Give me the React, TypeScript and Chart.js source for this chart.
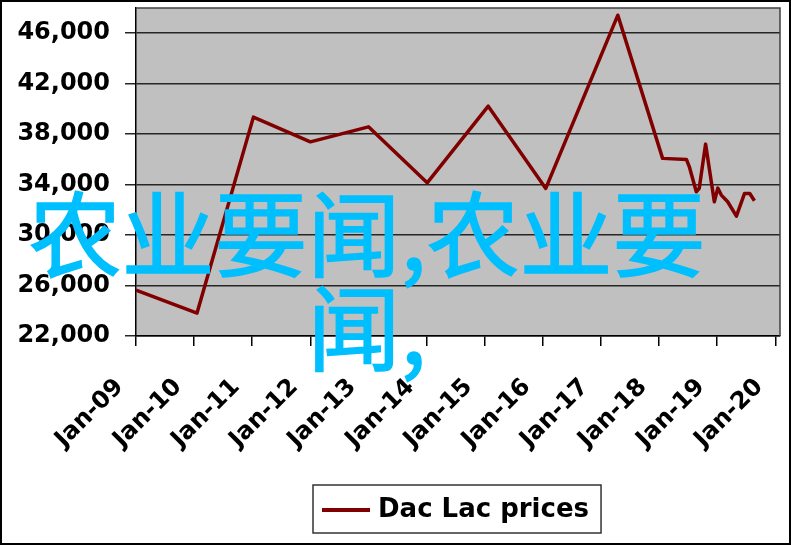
import React, { useEffect, useRef } from "react";
import { Chart, registerables } from "chart.js";

Chart.register(...registerables);

// ---- data ----
const yearLabels = [
  "Jan-09", "Jan-10", "Jan-11", "Jan-12", "Jan-13", "Jan-14",
  "Jan-15", "Jan-16", "Jan-17", "Jan-18", "Jan-19", "Jan-20",
];
// time position in years since Jan-09
const dateYears = [
  0, 1.05, 2.02, 3.0, 4.0, 5.01, 6.06, 7.05, 8.29, 9.06, 9.47, 9.52,
  9.64, 9.69, 9.8, 9.95, 10.01, 10.07, 10.18, 10.33, 10.47, 10.56, 10.64,
];
const prices = [
  25640, 23820, 39350, 37390, 38580, 34140, 40220, 33700, 47430, 36080, 36000, 35410,
  33430, 33700, 37210, 32640, 33720, 33170, 32640, 31500, 33300, 33300, 32720,
];
const yTicks = [22000, 26000, 30000, 34000, 38000, 42000, 46000];
const seriesLabel = "Dac Lac prices";
const overlayText = "农业要闻,农业要闻,";

const FONT = "DejaVu Sans";

const framePlugin = {
  id: "frame",
  beforeDraw(chart: any) {
    const { ctx, chartArea: a } = chart;
    ctx.save();
    ctx.fillStyle = "#ffffff";
    ctx.fillRect(0, 0, chart.width, chart.height);
    ctx.fillStyle = "#c0c0c0";
    ctx.fillRect(a.left, a.top, a.right - a.left, a.bottom - a.top);
    ctx.restore();
  },
  afterDraw(chart: any) {
    const { ctx, chartArea: a } = chart;
    ctx.save();
    // plot border (top / right)
    ctx.strokeStyle = "#404040";
    ctx.lineWidth = 1.5;
    ctx.beginPath();
    ctx.moveTo(a.left, a.top);
    ctx.lineTo(a.right, a.top);
    ctx.lineTo(a.right, a.bottom);
    ctx.stroke();
    // outer border
    ctx.strokeStyle = "#000";
    ctx.lineWidth = 2;
    ctx.strokeRect(1, 1, chart.width - 2, chart.height - 2);

    // legend
    const ds = chart.data.datasets[0];
    ctx.font = `bold 26px "${FONT}"`;
    const tw = ctx.measureText(ds.label).width;
    const lineLen = 48;
    const boxW = 9 + lineLen + 8 + tw + 12;
    const boxH = 48;
    const cx = (a.left + a.right) / 2 - 1;
    const bx = Math.round(cx - boxW / 2);
    const by = chart.height - 12 - boxH;
    ctx.fillStyle = "#fff";
    ctx.fillRect(bx, by, boxW, boxH);
    ctx.strokeStyle = "#333";
    ctx.lineWidth = 1.5;
    ctx.strokeRect(bx, by, boxW, boxH);
    const my = by + boxH / 2 + 1;
    ctx.strokeStyle = ds.borderColor;
    ctx.lineWidth = 4;
    ctx.beginPath();
    ctx.moveTo(bx + 9, my);
    ctx.lineTo(bx + 9 + lineLen, my);
    ctx.stroke();
    ctx.fillStyle = "#000";
    ctx.textBaseline = "middle";
    ctx.textAlign = "left";
    ctx.fillText(ds.label, bx + 9 + lineLen + 8, my);
    ctx.restore();
  },
};

export default function App() {
  const ref = useRef<HTMLCanvasElement>(null);

  useEffect(() => {
    document.body.style.margin = "0";
    const canvas = ref.current!;
    const chart = new Chart(canvas, {
      type: "line",
      data: {
        datasets: [
          {
            label: seriesLabel,
            data: dateYears.map((x, i) => ({ x, y: prices[i] })),
            borderColor: "#800000",
            backgroundColor: "#800000",
            borderWidth: 3.5,
            pointRadius: 0,
            tension: 0,
            borderJoinStyle: "round",
          },
        ],
      },
      options: {
        animation: false,
        responsive: false,
        devicePixelRatio: 1,
        layout: { padding: { top: 8, right: 11, left: 0, bottom: 0 } },
        plugins: { legend: { display: false }, tooltip: { enabled: false } },
        scales: {
          x: {
            type: "linear",
            min: 0,
            max: 11.08,
            afterBuildTicks: (s: any) => {
              s.ticks = yearLabels.map((_, i) => ({ value: i }));
            },
            afterFit: (s: any) => {
              s.height = 209;
              s.paddingLeft = 0;
              s.paddingRight = 0;
            },
            ticks: {
              autoSkip: false,
              minRotation: 45,
              maxRotation: 45,
              padding: 27,
              labelOffset: -16,
              color: "#000",
              font: { family: FONT, weight: "bold", size: 24 },
              callback: (_v: any, i: number) => yearLabels[i] ?? "",
            },
            grid: { drawOnChartArea: false, drawTicks: true, tickLength: 10, color: "#000", lineWidth: 1.5 },
            border: { display: true, color: "#000", width: 1.5 },
          },
          y: {
            min: 22000,
            max: 48000,
            afterBuildTicks: (s: any) => {
              s.ticks = yTicks.map((v) => ({ value: v }));
            },
            afterFit: (s: any) => {
              s.width = 136;
              s.paddingTop = 0;
              s.paddingBottom = 0;
            },
            ticks: {
              padding: 15,
              color: "#000",
              font: { family: FONT, weight: "bold", size: 24 },
              callback: (v: any) => Number(v).toLocaleString("en-US"),
            },
            grid: { color: "#262626", lineWidth: 1.5, tickLength: 11 },
            border: { display: true, color: "#000", width: 1.5 },
          },
        },
      },
      plugins: [framePlugin],
    } as any);
    return () => chart.destroy();
  }, []);

  return (
    <div style={{ position: "relative", width: 791, height: 545 }}>
      <canvas ref={ref} width={791} height={545} style={{ display: "block" }} />
      <div
        style={{
          position: "absolute",
          left: 17,
          top: 183,
          width: 700,
          textAlign: "center",
          fontSize: 93,
          lineHeight: "94px",
          color: "#00bfff",
          WebkitTextStroke: "1.5px #00bfff",
          fontFamily: '"Noto Sans CJK SC"',
          pointerEvents: "none",
        }}
      >
        {overlayText}
      </div>
    </div>
  );
}
